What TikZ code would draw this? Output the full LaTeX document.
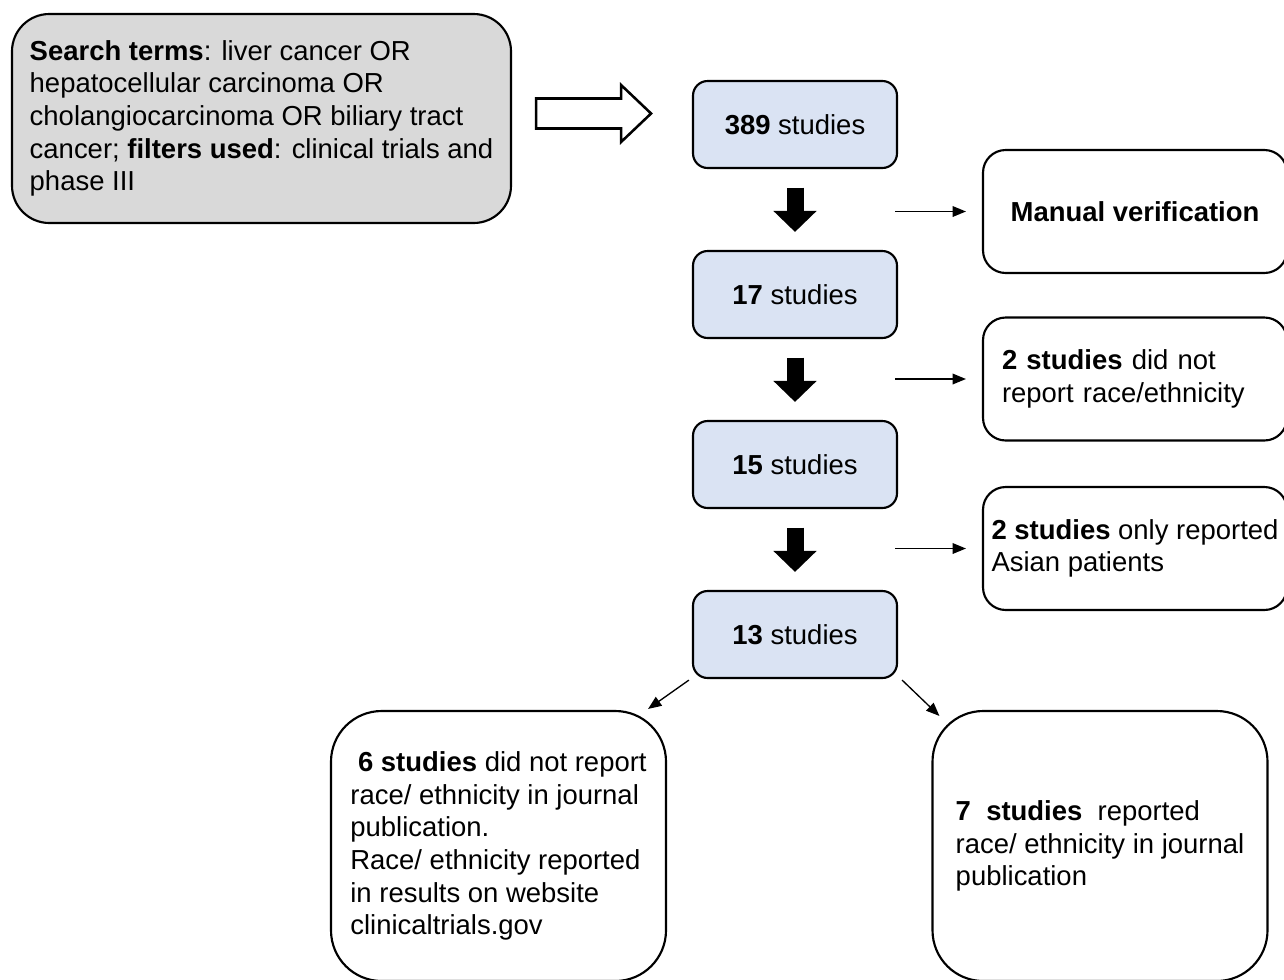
\documentclass[tikz,border=0pt]{standalone}
\usepackage{fontspec}
\setmainfont{Liberation Sans}
\usetikzlibrary{arrows.meta}
\definecolor{boxgray}{HTML}{D9D9D9}
\definecolor{boxblue}{HTML}{DAE3F3}

\begin{document}
\begin{tikzpicture}[x = 0.75pt, y = -0.75pt,
	every node/.style = {font = \fontsize{20.6pt}{24.5pt}\selectfont, inner sep = 0pt},
	box/.style = {draw, line width = 1.6pt, align = left},
	searchbox/.style = {box, fill = boxgray, rounded corners = 28pt, minimum width = 374.25pt, minimum height = 156.75pt},
	countbox/.style = {box, fill = boxblue, rounded corners = 11pt, minimum width = 153pt, minimum height = 65.25pt, align = center},
	exclbox/.style = {box, rounded corners = 17pt, minimum width = 228pt, minimum height = 92.25pt},
	resultbox/.style = {box, rounded corners = 38pt, minimum width = 251.25pt, minimum height = 202.5pt},
	blockarrow/.style = {line width = 12.75pt, -{Triangle[width = 31.5pt, length = 15.75pt]}, shorten <= 14pt, shorten >= 13.5pt},
	thinarrow/.style = {line width = 1pt, -{Triangle[width = 8pt, length = 10pt]}},
	hollowarrow/.style = {draw, line width = 1.9pt, line join = miter}]

	\useasboundingbox (0,0) rectangle (1284,979);

	\node[searchbox] (search) at (261.5,118.5) {\textbf{Search terms}: liver cancer OR\\ hepatocellular carcinoma OR\\ cholangiocarcinoma OR biliary tract\\ cancer; \textbf{filters used}: clinical trials and\\ phase III};

	\node[countbox] (b389) at (795,124.5) {\textbf{389} studies};
	\node[countbox] (b17) at (795,294.5) {\textbf{17} studies};
	\node[countbox] (b15) at (795,464.5) {\textbf{15} studies};
	\node[countbox] (b13) at (795,634.5) {\textbf{13} studies};

	\node[exclbox, align = center] (ex1) at (1135,211.5) {\textbf{Manual verification}};
	\node[exclbox, text width = 199.5pt] (ex2) at (1135,379) {\textbf{2 studies} did not\\ report race/ethnicity};
	\node[exclbox] (ex3) at (1135,548.5) {\textbf{2 studies} only reported\\ Asian patients};

	\node[resultbox] (res1) at (498.5,846) {\hspace*{.28em}\textbf{6 studies} did not report\\ race/ ethnicity in journal\\ publication.\\ Race/ ethnicity reported\\ in results on website\\ clinicaltrials.gov};
	\node[resultbox] (res2) at (1100,846) {\textbf{7\ \ studies}\ \ reported\\ race/ ethnicity in journal\\ publication};

	% search -> first count
	\coordinate (hol) at ([shift = {(24,-5)}]search.east);
	\draw[hollowarrow] (hol) -- ++(0,-15) -- ++(85,0) -- ++(0,-13.5) -- ++(30,28.5)
		-- ++(-30,28.5) -- ++(0,-13.5) -- ++(-85,0) -- cycle;

	\draw[blockarrow] (b389) -- (b17);
	\draw[blockarrow] (b17) -- (b15);
	\draw[blockarrow] (b15) -- (b13);

	\draw[thinarrow, shorten >= 12pt] ([xshift = -2]b389.east |- ex1.west) -- (ex1.west);
	\draw[thinarrow, shorten >= 12pt] ([xshift = -2]b17.east |- ex2.west) -- (ex2.west);
	\draw[thinarrow, shorten >= 12pt] ([xshift = -2]b15.east |- ex3.west) -- (ex3.west);

	\draw[thinarrow] ([shift = {(-3,1)}]b13.south west) -- ([shift = {(-19,-1)}]res1.north east);
	\draw[thinarrow] ([shift = {(4,1)}]b13.south east) -- ([shift = {(8,6)}]res2.north west);
\end{tikzpicture}
\end{document}
